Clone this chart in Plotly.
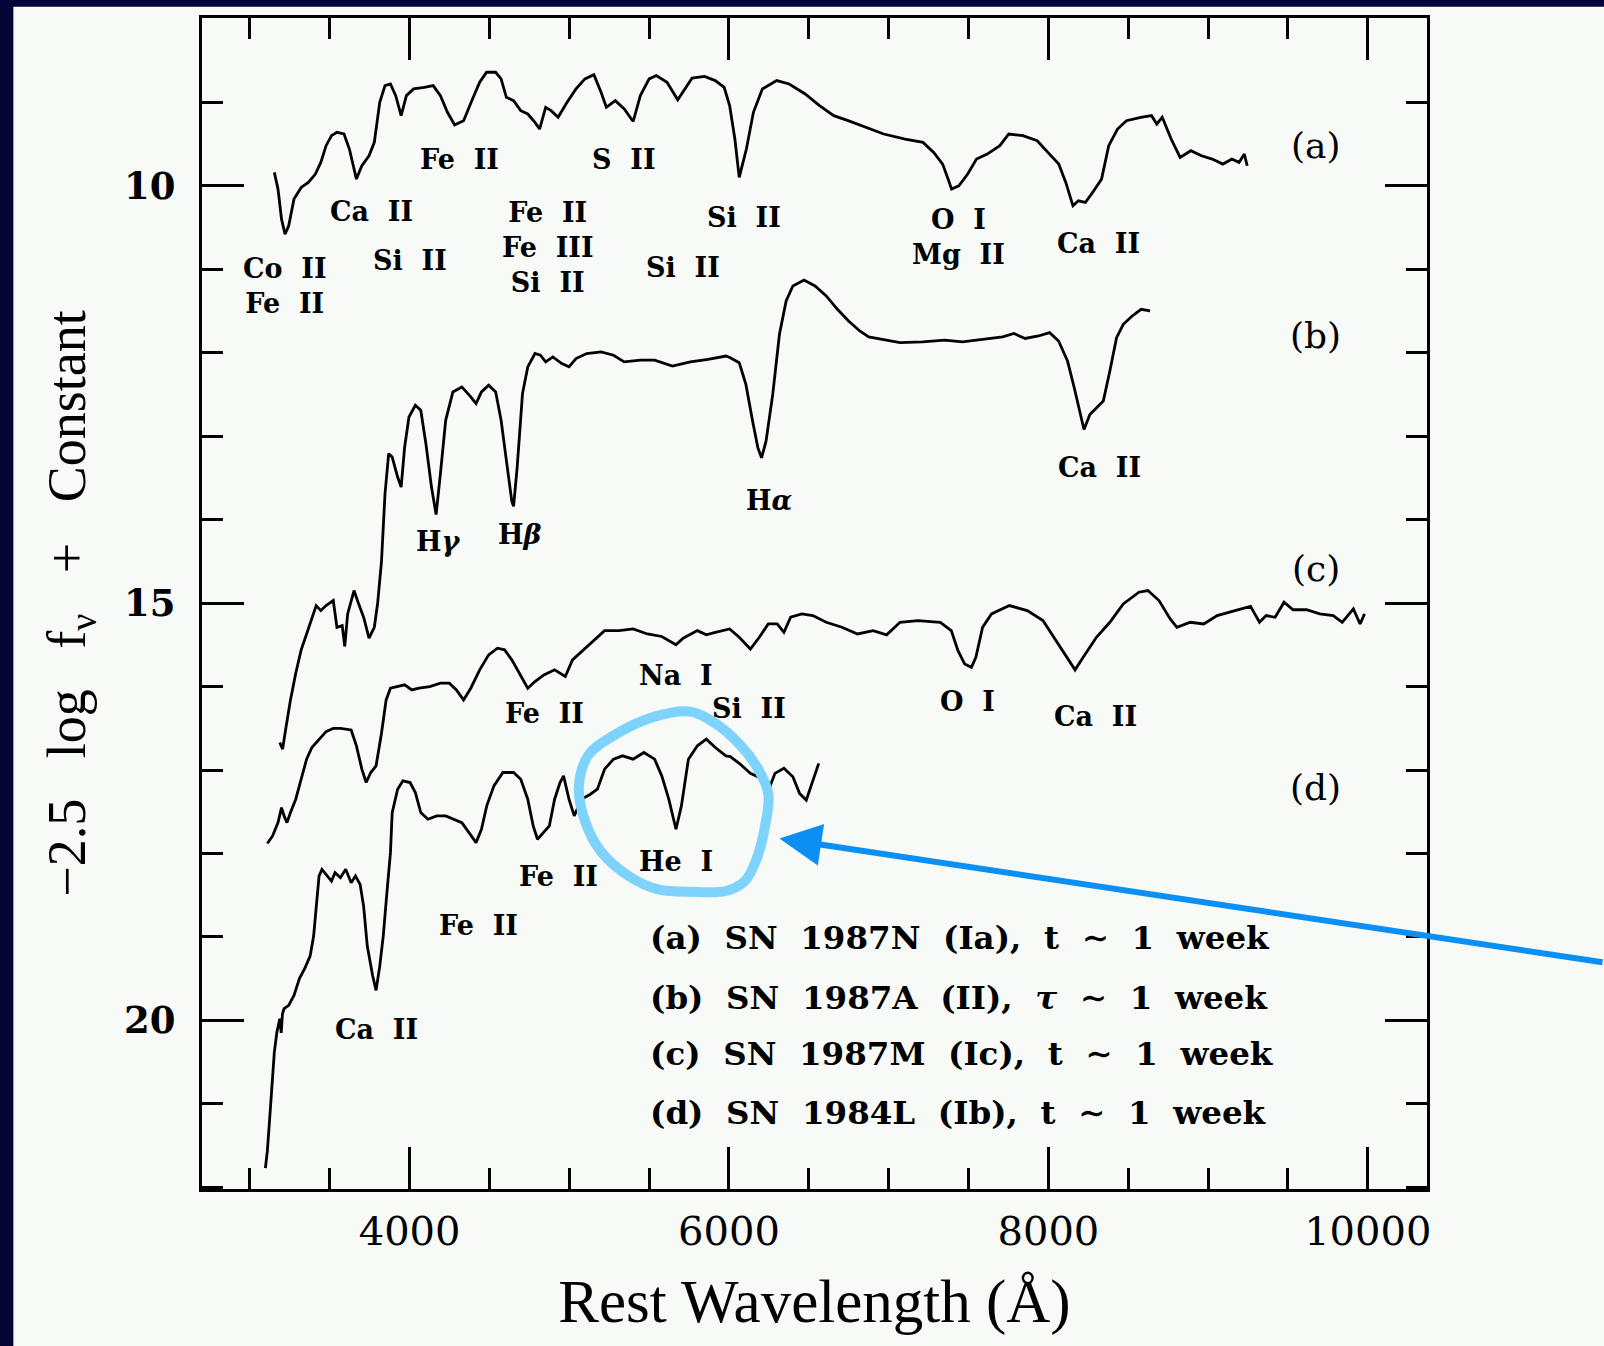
import plotly.graph_objects as go

# ---------------- data (wavelength in Angstrom, -2.5 log f_nu + const) ----------------
spec_a = [  # (a) SN 1987N (Ia)
    (3153, 9.84), (3176, 10.04), (3198, 10.40), (3220, 10.58), (3243, 10.48), (3276, 10.16),
    (3321, 10.02), (3366, 9.96), (3410, 9.86), (3444, 9.72), (3477, 9.52), (3511, 9.40),
    (3545, 9.36), (3589, 9.38), (3623, 9.56), (3667, 9.92), (3701, 9.76), (3746, 9.64),
    (3779, 9.48), (3813, 9.00), (3846, 8.80), (3880, 8.78), (3913, 8.92), (3947, 9.16),
    (3980, 8.92), (4025, 8.84), (4092, 8.82), (4148, 8.80), (4193, 8.92), (4237, 9.12),
    (4282, 9.27), (4338, 9.22), (4394, 8.96), (4439, 8.76), (4482, 8.64), (4539, 8.64),
    (4573, 8.72), (4606, 8.94), (4651, 8.98), (4696, 9.10), (4740, 9.14), (4785, 9.24),
    (4814, 9.32), (4852, 9.06), (4886, 9.10), (4930, 9.18), (4986, 9.00), (5042, 8.84),
    (5098, 8.72), (5154, 8.67), (5199, 8.88), (5232, 9.06), (5288, 8.98), (5344, 9.08),
    (5400, 9.23), (5445, 8.92), (5500, 8.72), (5545, 8.68), (5612, 8.76), (5679, 8.97),
    (5724, 8.84), (5769, 8.71), (5847, 8.69), (5914, 8.74), (5970, 8.82), (6004, 9.04),
    (6037, 9.44), (6064, 9.90), (6109, 9.56), (6153, 9.12), (6209, 8.84), (6299, 8.74),
    (6377, 8.78), (6477, 8.90), (6567, 9.04), (6656, 9.16), (6746, 9.22), (6857, 9.30),
    (6969, 9.38), (7103, 9.44), (7215, 9.48), (7282, 9.60), (7338, 9.74), (7372, 9.92),
    (7394, 10.04), (7439, 10.00), (7495, 9.86), (7550, 9.68), (7617, 9.62), (7696, 9.52),
    (7752, 9.38), (7841, 9.40), (7930, 9.46), (7997, 9.60), (8065, 9.74), (8109, 9.96),
    (8154, 10.24), (8188, 10.18), (8232, 10.20), (8277, 10.08), (8333, 9.92), (8378, 9.52),
    (8433, 9.32), (8489, 9.22), (8579, 9.18), (8646, 9.16), (8679, 9.26), (8713, 9.18),
    (8769, 9.44), (8825, 9.66), (8892, 9.58), (8959, 9.64), (9026, 9.68), (9093, 9.74),
    (9149, 9.68), (9194, 9.72), (9227, 9.62), (9245, 9.76),
]

spec_b = [  # (b) SN 1987A (II)
    (3187, 16.67), (3205, 16.75), (3220, 16.56), (3254, 16.16), (3287, 15.84), (3321, 15.56),
    (3355, 15.37), (3388, 15.17), (3415, 15.03), (3444, 15.09), (3477, 15.03), (3522, 14.97),
    (3545, 15.29), (3578, 15.27), (3594, 15.52), (3612, 15.13), (3652, 14.85), (3679, 15.00),
    (3712, 15.17), (3746, 15.42), (3779, 15.29), (3800, 15.00), (3824, 14.50), (3846, 13.69),
    (3869, 13.21), (3891, 13.25), (3925, 13.49), (3947, 13.61), (3969, 13.13), (3996, 12.77),
    (4036, 12.63), (4070, 12.69), (4102, 13.09), (4137, 13.61), (4166, 13.94), (4193, 13.45),
    (4226, 12.81), (4271, 12.47), (4327, 12.41), (4383, 12.53), (4416, 12.61), (4450, 12.47),
    (4495, 12.39), (4539, 12.47), (4573, 12.81), (4606, 13.29), (4640, 13.78), (4651, 13.84),
    (4673, 13.39), (4707, 12.49), (4740, 12.17), (4785, 12.01), (4819, 12.03), (4852, 12.11),
    (4897, 12.05), (4953, 12.13), (4998, 12.17), (5042, 12.07), (5109, 12.01), (5199, 11.99),
    (5277, 12.03), (5344, 12.11), (5445, 12.09), (5534, 12.09), (5646, 12.16), (5758, 12.11),
    (5869, 12.08), (5981, 12.04), (6008, 12.06), (6064, 12.12), (6106, 12.38), (6148, 12.82),
    (6181, 13.14), (6204, 13.26), (6232, 13.06), (6274, 12.50), (6316, 11.78), (6358, 11.38),
    (6400, 11.20), (6470, 11.13), (6539, 11.20), (6609, 11.32), (6679, 11.48), (6749, 11.62),
    (6819, 11.74), (6875, 11.81), (6959, 11.84), (7071, 11.88), (7211, 11.87), (7351, 11.85),
    (7462, 11.87), (7602, 11.84), (7714, 11.81), (7784, 11.77), (7854, 11.83), (7938, 11.80),
    (8008, 11.76), (8064, 11.86), (8120, 12.10), (8162, 12.42), (8195, 12.70), (8223, 12.92),
    (8260, 12.74), (8302, 12.66), (8344, 12.58), (8385, 12.22), (8427, 11.82), (8469, 11.66),
    (8525, 11.56), (8581, 11.48), (8637, 11.50),
]

spec_c = [  # (c) SN 1987M (Ic)
    (3109, 17.88), (3142, 17.79), (3176, 17.63), (3198, 17.45), (3214, 17.55), (3232, 17.63),
    (3254, 17.51), (3287, 17.35), (3321, 17.11), (3355, 16.87), (3388, 16.73), (3433, 16.63),
    (3477, 16.54), (3522, 16.50), (3567, 16.50), (3634, 16.52), (3667, 16.71), (3701, 16.99),
    (3728, 17.15), (3757, 17.03), (3790, 16.95), (3824, 16.56), (3853, 16.16), (3880, 16.02),
    (3925, 16.00), (3969, 15.98), (4014, 16.04), (4059, 16.02), (4126, 16.00), (4193, 15.96),
    (4249, 15.96), (4293, 16.04), (4338, 16.16), (4383, 16.02), (4439, 15.80), (4495, 15.62),
    (4550, 15.54), (4595, 15.56), (4640, 15.68), (4685, 15.84), (4740, 16.02), (4785, 15.94),
    (4841, 15.86), (4908, 15.80), (4975, 15.88), (5020, 15.68), (5087, 15.56), (5154, 15.44),
    (5221, 15.33), (5311, 15.33), (5400, 15.31), (5489, 15.37), (5579, 15.40), (5668, 15.50),
    (5713, 15.42), (5802, 15.33), (5858, 15.38), (5914, 15.35), (6004, 15.31), (6064, 15.41),
    (6134, 15.55), (6190, 15.41), (6246, 15.25), (6302, 15.25), (6344, 15.35), (6386, 15.17),
    (6456, 15.13), (6525, 15.15), (6609, 15.23), (6707, 15.29), (6805, 15.37), (6903, 15.33),
    (6987, 15.38), (7071, 15.23), (7183, 15.21), (7323, 15.23), (7392, 15.33), (7434, 15.57),
    (7476, 15.73), (7518, 15.77), (7546, 15.65), (7588, 15.29), (7644, 15.13), (7756, 15.03),
    (7868, 15.09), (7966, 15.21), (8050, 15.45), (8120, 15.65), (8167, 15.80), (8218, 15.65),
    (8301, 15.41), (8385, 15.23), (8469, 15.01), (8567, 14.87), (8623, 14.85), (8693, 14.97),
    (8763, 15.19), (8805, 15.29), (8889, 15.23), (8973, 15.25), (9057, 15.15), (9169, 15.09),
    (9266, 15.04), (9322, 15.23), (9364, 15.15), (9420, 15.17), (9476, 14.99), (9532, 15.08),
    (9616, 15.08), (9700, 15.13), (9784, 15.15), (9840, 15.23), (9910, 15.07), (9952, 15.25),
    (9980, 15.13),
]

spec_d = [  # (d) SN 1984L (Ib)
    (3097, 21.77), (3109, 21.57), (3124, 21.17), (3138, 20.77), (3153, 20.38), (3169, 20.14),
    (3187, 19.98), (3196, 20.15), (3204, 19.92), (3214, 19.86), (3243, 19.82), (3276, 19.70),
    (3310, 19.50), (3343, 19.38), (3377, 19.23), (3399, 18.99), (3415, 18.63), (3433, 18.27),
    (3451, 18.19), (3477, 18.25), (3511, 18.33), (3533, 18.23), (3567, 18.29), (3600, 18.19),
    (3634, 18.35), (3661, 18.27), (3690, 18.37), (3712, 18.63), (3735, 19.11), (3768, 19.46),
    (3790, 19.64), (3813, 19.35), (3835, 18.99), (3858, 18.47), (3880, 17.99), (3891, 17.51),
    (3925, 17.23), (3958, 17.13), (4003, 17.15), (4036, 17.27), (4070, 17.51), (4115, 17.59),
    (4170, 17.55), (4226, 17.55), (4282, 17.59), (4327, 17.63), (4372, 17.75), (4416, 17.87),
    (4450, 17.71), (4483, 17.43), (4528, 17.19), (4584, 17.03), (4651, 17.03), (4696, 17.11),
    (4740, 17.35), (4774, 17.67), (4801, 17.83), (4841, 17.75), (4875, 17.67), (4908, 17.35),
    (4942, 17.15), (4964, 17.07), (4998, 17.35), (5031, 17.55), (5076, 17.35), (5132, 17.29),
    (5176, 17.23), (5221, 16.99), (5277, 16.87), (5333, 16.83), (5400, 16.87), (5467, 16.79),
    (5534, 16.87), (5579, 17.07), (5623, 17.35), (5668, 17.71), (5702, 17.43), (5746, 16.87),
    (5802, 16.71), (5858, 16.63), (5914, 16.73), (5981, 16.83), (6008, 16.84), (6064, 16.92),
    (6134, 17.04), (6204, 17.10), (6260, 17.18), (6288, 17.04), (6344, 16.98), (6400, 17.08),
    (6442, 17.28), (6484, 17.36), (6525, 17.12), (6562, 16.92),
]

spectra = [spec_a, spec_b, spec_c, spec_d]

# line identifications: (text, wavelength, magnitude)
line_labels = [
    ("Co  II<br>Fe  II", 3219, 11.20),
    ("Ca  II", 3763, 10.31),
    ("Si  II", 4000, 10.89),
    ("Fe  II", 4314, 9.69),
    ("Fe  II<br>Fe  III<br>Si  II", 4864, 10.74),
    ("S  II", 5345, 9.69),
    ("Si  II", 5710, 10.98),
    ("Si  II", 6094, 10.38),
    ("O  I<br>Mg  II", 7438, 10.61),
    ("Ca  II", 8316, 10.69),
    ("H<i>γ</i>", 4179, 14.26),
    ("H<i>β</i>", 4692, 14.18),
    ("H<i>α</i>", 6254, 13.77),
    ("Ca  II", 8322, 13.37),
    ("Fe  II", 4845, 16.32),
    ("Na  I", 5671, 15.87),
    ("Si  II", 6126, 16.26),
    ("O  I", 7496, 16.18),
    ("Ca  II", 8297, 16.36),
    ("Fe  II", 4935, 18.28),
    ("He  I", 5671, 18.10),
    ("Fe  II", 4429, 18.86),
    ("Ca  II", 3795, 20.11),
]

panel_labels = [("(a)", 9673, 9.52), ("(b)", 9673, 11.79), ("(c)", 9673, 14.58), ("(d)", 9673, 17.21)]

legend_lines = [
    "(a)  SN  1987N  (Ia),  t  ∼  1  week",
    "(b)  SN  1987A  (II),  <i>τ</i>  ∼  1  week",
    "(c)  SN  1987M  (Ic),  t  ∼  1  week",
    "(d)  SN  1984L  (Ib),  t  ∼  1  week",
]
legend_mags = [19.01, 19.72, 20.40, 21.10]

# hand-drawn highlight loop around He I and arrow tip (data coordinates)
loop_pts = [(5266, 16.60), (5534, 16.36), (5758, 16.30), (5914, 16.44), (6070, 16.70),
            (6180, 16.98), (6246, 17.28), (6225, 17.68), (6170, 18.08), (6100, 18.33),
            (5981, 18.45), (5780, 18.46), (5556, 18.43), (5380, 18.28), (5200, 17.98),
            (5100, 17.62), (5060, 17.20), (5120, 16.82), (5266, 16.60)]
arrow_tip = (6316, 17.82)

# ---------------- figure ----------------
def sp(s):
    return s.replace("  ", "\u00a0\u00a0")

fig = go.Figure()
for spec in spectra:
    fig.add_trace(go.Scatter(x=[p[0] for p in spec], y=[p[1] for p in spec], mode="lines",
                             line=dict(color="black", width=2.8), hoverinfo="skip"))

fig.add_trace(go.Scatter(x=[p[0] for p in loop_pts], y=[p[1] for p in loop_pts], mode="lines",
                         line=dict(color="#7dd3fb", width=10, shape="spline", smoothing=1.0),
                         hoverinfo="skip"))

ann = []
for t, x, y in line_labels:
    ann.append(dict(x=x, y=y, text="<b>" + sp(t) + "</b>", showarrow=False, xanchor="center",
                    yanchor="middle", font=dict(family="DejaVu Serif", size=27, color="black")))
for t, x, y in panel_labels:
    ann.append(dict(x=x, y=y, text=t, showarrow=False, xanchor="center", yanchor="middle",
                    font=dict(family="DejaVu Serif", size=36, color="black")))
for t, y in zip(legend_lines, legend_mags):
    ann.append(dict(x=5490, y=y, text="<b>" + sp(t) + "</b>", showarrow=False, xanchor="left",
                    yanchor="middle", font=dict(family="DejaVu Serif", size=32.5, color="black")))
ann.append(dict(x=arrow_tip[0], y=arrow_tip[1], text="", showarrow=True, ax=825, ay=124,
                arrowcolor="#0a90f5", arrowwidth=6, arrowhead=2, arrowsize=1.4, standoff=0))

gap = "\u00a0\u00a0\u00a0"
fig.update_layout(
    width=1604, height=1346,
    margin=dict(l=202, r=177, t=18, b=157),
    paper_bgcolor="#040436", plot_bgcolor="#f7faf7",
    showlegend=False,
    annotations=ann,
    shapes=[dict(type="rect", xref="paper", yref="paper", x0=-0.154, x1=1.2, y0=-0.2, y1=1.0097,
                 fillcolor="#f7faf7", line=dict(width=0), layer="below")],
    xaxis=dict(range=[2700, 10371], tickmode="linear", tick0=0, dtick=2000, tickformat="d",
               ticks="inside", ticklen=42, tickwidth=2.5, tickcolor="black",
               showline=True, linewidth=3, linecolor="black", mirror="allticks",
               showgrid=False, zeroline=False, ticklabelstandoff=5,
               tickfont=dict(family="DejaVu Serif", size=40, color="black"),
               minor=dict(tickmode="linear", tick0=0, dtick=500, ticks="inside", ticklen=21,
                          tickwidth=2.5, tickcolor="black", showgrid=False),
               title=dict(text="Rest Wavelength (Å)", standoff=27,
                          font=dict(family="Liberation Serif", size=61, color="black"))),
    yaxis=dict(range=[22.02, 7.99], tickmode="linear", tick0=0, dtick=5,
               ticks="inside", ticklen=42, tickwidth=2.5, tickcolor="black",
               showline=True, linewidth=3, linecolor="black", mirror="allticks",
               showgrid=False, zeroline=False, ticklabelstandoff=16,
               tickfont=dict(family="DejaVu Serif", size=37, color="black", weight="bold"),
               minor=dict(tickmode="linear", tick0=0, dtick=1, ticks="inside", ticklen=21,
                          tickwidth=2.5, tickcolor="black", showgrid=False),
               title=dict(text="−2.5" + gap + "log" + gap + "f<sub>ν</sub>" + gap + "+" + gap + "Constant",
                          standoff=22,
                          font=dict(family="Liberation Serif", size=54, color="black"))),
)

fig.write_html(
    "out.html",
    config={"displayModeBar": False},
    post_script="document.body.style.margin='0';document.body.style.padding='0';"
                "document.body.style.background='#040436';"
                "document.documentElement.style.background='#040436';",
)
